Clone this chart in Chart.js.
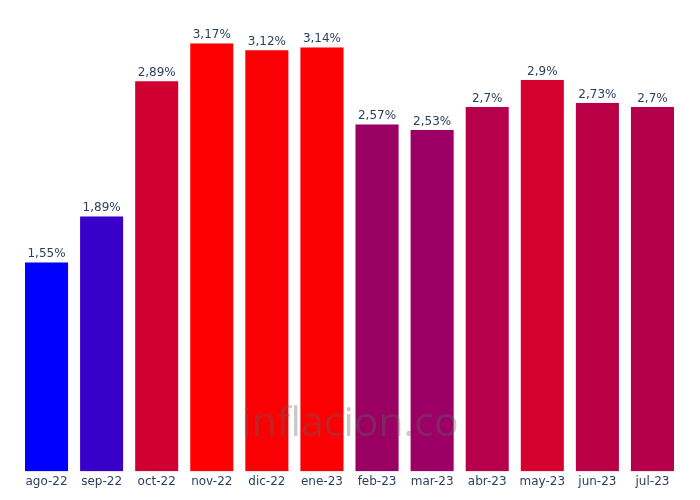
<!DOCTYPE html>
<html>
<head>
<meta charset="utf-8">
<script src="https://cdn.jsdelivr.net/npm/chart.js@4"></script>
<style>
  html, body { margin: 0; padding: 0; background: #fff; }
  #wrap { width: 700px; height: 500px; }
</style>
</head>
<body>
<div id="wrap"><canvas id="chart" width="700" height="500"></canvas></div>
<script>
const months = ['ago-22', 'sep-22', 'oct-22', 'nov-22', 'dic-22', 'ene-23',
  'feb-23', 'mar-23', 'abr-23', 'may-23', 'jun-23', 'jul-23'];
const inflation = [1.55, 1.89, 2.89, 3.17, 3.12, 3.14, 2.57, 2.53, 2.7, 2.9, 2.73, 2.7];
const barColors = ['#0000ff', '#3800c8', '#cf0031', '#ff0000', '#f80004', '#fa0002',
  '#990061', '#9c0066', '#b6004a', '#d6002e', '#b90047', '#b4004b'];

const fmt = v => String(v).replace('.', ',') + '%';
const FONT = '"DejaVu Sans", Verdana, sans-serif';

// value labels over each bar
const barLabels = {
  id: 'barLabels',
  afterDatasetsDraw(chart) {
    const ctx = chart.ctx;
    const meta = chart.getDatasetMeta(0);
    ctx.save();
    ctx.font = '12px ' + FONT;
    ctx.fillStyle = '#2a3f5f';
    ctx.textAlign = 'center';
    ctx.textBaseline = 'bottom';
    meta.data.forEach((bar, i) => {
      ctx.fillText(fmt(inflation[i]), bar.x, bar.y - 2);
    });
    ctx.restore();
  }
};

// watermark
const watermark = {
  id: 'watermark',
  afterDraw(chart) {
    const ctx = chart.ctx;
    ctx.save();
    ctx.font = '41px "Open Sans", sans-serif';
    ctx.fillStyle = 'rgba(100, 100, 100, 0.35)';
    ctx.textAlign = 'center';
    ctx.textBaseline = 'middle';
    ctx.fillText('inflacion.co', 350, 424);
    ctx.restore();
  }
};

new Chart(document.getElementById('chart'), {
  type: 'bar',
  data: {
    labels: months,
    datasets: [{
      data: inflation,
      backgroundColor: barColors,
      borderColor: 'rgba(255, 220, 230, 0.8)',
      borderWidth: 0.5,
      categoryPercentage: 1,
      barPercentage: 0.8
    }]
  },
  options: {
    responsive: false,
    animation: false,
    layout: { padding: { left: 19, right: 20, top: 20, bottom: 8 } },
    plugins: {
      legend: { display: false },
      tooltip: { enabled: false }
    },
    scales: {
      x: {
        grid: { display: false, drawTicks: false },
        border: { display: false },
        ticks: {
          color: '#2a3f5f',
          font: { family: FONT, size: 12 },
          padding: 3,
          maxRotation: 0
        }
      },
      y: {
        display: false,
        min: 0,
        max: 3.34
      }
    }
  },
  plugins: [barLabels, watermark]
});
</script>
</body>
</html>
